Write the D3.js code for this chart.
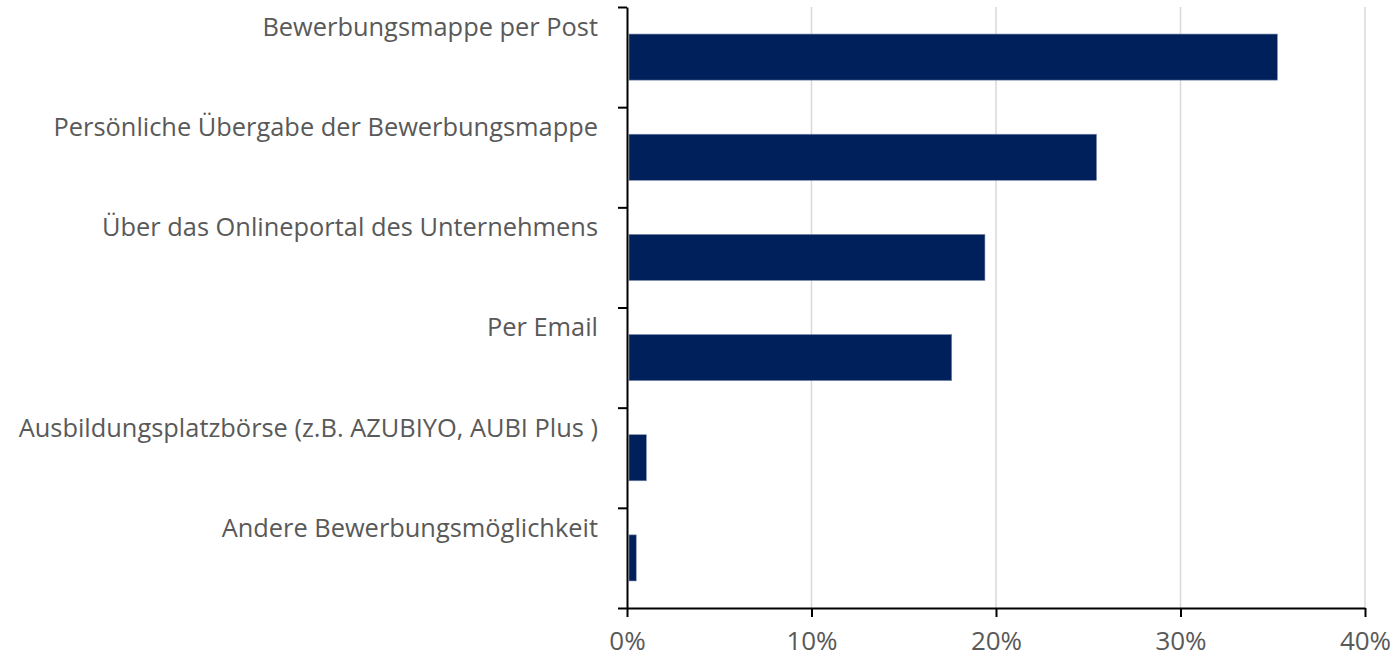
<!DOCTYPE html>
<html lang="de">
<head>
<meta charset="utf-8" />
<title>Bewerbungswege</title>
<script src="https://cdn.jsdelivr.net/npm/d3@7"></script>
<style>
  body { margin: 0; background: #fff; }
  text { font-family: "Open Sans", "Liberation Sans", sans-serif; fill: #595959; }
</style>
</head>
<body>
<div id="chart"></div>
<script>
// data
var categories = [
  "Bewerbungsmappe per Post",
  "Persönliche Übergabe der Bewerbungsmappe",
  "Über das Onlineportal des Unternehmens",
  "Per Email",
  "Ausbildungsplatzbörse (z.B. AZUBIYO, AUBI Plus )",
  "Andere Bewerbungsmöglichkeit"
];
var values = [0.3525, 0.2545, 0.194, 0.176, 0.0105, 0.005];
var xTicks = [0, 0.1, 0.2, 0.3, 0.4];

var W = 1396, H = 659;
var margin = {top: 7, right: 31, bottom: 51, left: 627},
    width = W - margin.left - margin.right,
    height = H - margin.top - margin.bottom;

var svg = d3.select("#chart")
  .append("svg")
    .attr("width", W)
    .attr("height", H)
  .append("g")
    .attr("transform", "translate(" + margin.left + "," + margin.top + ")");

var x = d3.scaleLinear().domain([0, 0.4]).range([0, width]);
var y = d3.scaleBand().domain(categories).range([0, height]).paddingInner(0.54).paddingOuter(0.27);
// band edges for the category axis ticks
var yEdge = d3.scaleLinear().domain([0, categories.length]).range([0, height]);

// gridlines
svg.append("g")
  .selectAll("line")
  .data(xTicks.slice(1))
  .enter()
  .append("line")
    .attr("x1", function(d) { return x(d); })
    .attr("x2", function(d) { return x(d); })
    .attr("y1", 0)
    .attr("y2", height)
    .attr("stroke", "#d9d9d9")
    .attr("stroke-width", 1.5);

// bars
svg.append("g")
  .selectAll("rect")
  .data(values)
  .enter()
  .append("rect")
    .attr("x", x(0) + 2)
    .attr("y", function(d, i) { return y(categories[i]); })
    .attr("width", function(d) { return x(d) - 2; })
    .attr("height", y.bandwidth())
    .attr("fill", "#00205c")
    .attr("stroke", "#7d8cae")
    .attr("stroke-width", 0.6);

// x axis
var xAxis = svg.append("g")
  .attr("transform", "translate(0," + height + ")")
  .call(d3.axisBottom(x).tickValues(xTicks).tickFormat(d3.format(".0%")).tickSize(9).tickSizeOuter(0).tickPadding(15));
xAxis.selectAll("text").style("font-size", "26px").attr("fill", "#595959");
xAxis.selectAll("line, path").attr("stroke", "#000").attr("stroke-width", 2);

// y axis (ticks between categories)
var yAxis = svg.append("g")
  .call(d3.axisLeft(yEdge).tickValues(d3.range(categories.length + 1)).tickFormat("").tickSize(9).tickSizeOuter(0));
yAxis.selectAll("line, path").attr("stroke", "#000").attr("stroke-width", 2);

// category labels, sitting above the bar like the original
svg.append("g")
  .selectAll("text")
  .data(categories)
  .enter()
  .append("text")
    .attr("x", -29)
    .attr("y", function(d) { return y(d) + y.bandwidth() / 2 - 30; })
    .attr("dy", "0.35em")
    .attr("text-anchor", "end")
    .style("font-size", "25.4px")
    .text(function(d) { return d; });
</script>
</body>
</html>
